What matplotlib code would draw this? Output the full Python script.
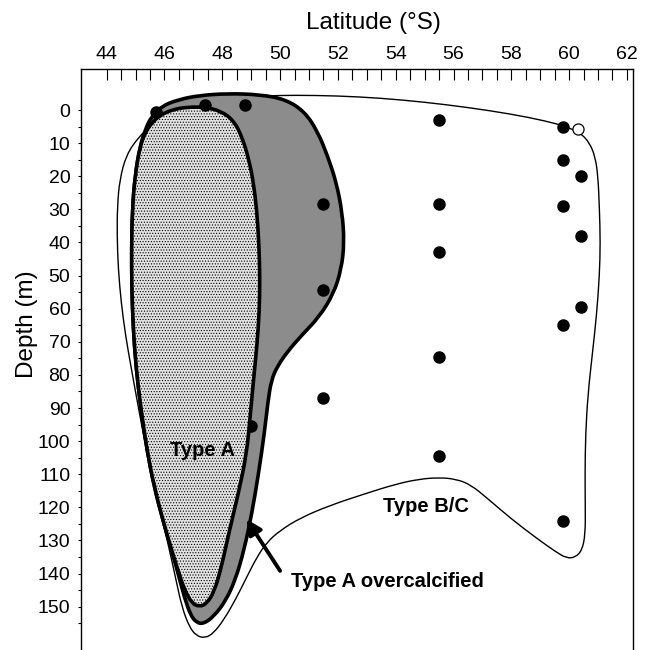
import numpy as np
import matplotlib
matplotlib.use("Agg")
import matplotlib.pyplot as plt
from matplotlib.path import Path
from matplotlib.patches import PathPatch
from matplotlib.ticker import FixedLocator

plt.rcParams['font.family'] = ['Liberation Sans', 'DejaVu Sans']
plt.rcParams['hatch.color'] = '#9a9a9a'
plt.rcParams['hatch.linewidth'] = 0.5

# sampling stations (latitude °S, depth m)
sta_lat = [45.7, 47.4, 48.8, 51.5, 51.5, 51.5,
           55.5, 55.5, 55.5, 55.5, 55.5,
           59.8, 59.8, 60.4, 59.8, 60.4, 60.4, 59.8, 59.8]
sta_depth = [0.5, -1.5, -1.5, 28.5, 54.5, 87.0,
             3.0, 28.5, 43.0, 74.5, 104.5,
             5.0, 15.0, 20.0, 29.0, 38.0, 59.5, 65.0, 124.0]
hidden_lat = [49.0]
hidden_depth = [95.5]
open_lat = [60.3]
open_depth = [5.8]

# outline of Type B/C
bc_lat = [45.70, 45.70, 46.50, 47.40, 48.40, 49.50, 50.50, 52.00, 53.50, 55.00,
          56.50, 58.00, 59.20, 59.90, 60.40, 60.70, 60.90, 61.00, 61.05, 61.08,
          61.05, 60.95, 60.80, 60.65, 60.57, 60.55, 60.56, 60.56, 60.45, 60.20,
          59.90, 59.55, 58.90, 58.00, 57.20, 56.60, 56.10, 55.50, 54.80, 54.00,
          52.90, 51.70, 50.70, 50.00, 49.55, 49.20, 48.85, 48.45, 48.05, 47.70,
          47.40, 47.10, 46.85, 46.60, 46.40, 46.10, 45.75, 45.40, 45.10, 44.85,
          44.65, 44.50, 44.40, 44.36, 44.37, 44.45, 44.68, 45.10, 45.50, 45.65]
bc_depth = [0.5, 0.5, -0.8, -1.8, -3.4, -4.3, -4.5, -4.3, -3.6, -2.4,
            -0.8, 1.2, 3.3, 5.0, 7.0, 9.8, 14.0, 20.0, 30.0, 40.0,
            50.0, 62.0, 74.0, 86.0, 98.0, 110.0, 120.0, 128.0, 133.0, 135.2,
            135.3, 133.5, 129.5, 123.5, 117.5, 113.2, 111.5, 111.0, 111.5, 113.0,
            116.0, 119.5, 123.2, 127.0, 130.5, 135.0, 141.0, 148.0, 154.0, 158.0,
            159.5, 158.8, 156.0, 150.0, 142.0, 130.0, 118.0, 104.0, 90.0, 78.0,
            68.0, 58.0, 48.0, 38.0, 29.0, 21.0, 13.5, 8.2, 5.0, 2.0]

# outline of Type A overcalcified
oc_lat = [45.55, 45.90, 46.50, 47.20, 48.15, 49.30, 50.20, 50.85, 51.30, 51.65,
          51.95, 52.15, 52.22, 52.12, 51.85, 51.35, 50.75, 50.25, 49.90, 49.70,
          49.58, 49.45, 49.25, 49.02, 48.75, 48.45, 48.10, 47.70, 47.35, 47.10,
          46.90, 46.70, 46.50, 46.25, 45.95, 45.65, 45.40, 45.18, 45.02, 44.92,
          44.87, 44.86, 44.89, 44.98, 45.15, 45.35]
oc_depth = [2.0, -1.2, -3.2, -4.4, -5.0, -4.7, -3.2, 0.5, 6.5, 14.0,
            22.0, 31.0, 40.0, 48.0, 55.5, 62.5, 68.0, 73.0, 77.5, 81.5,
            88.0, 98.0, 110.0, 122.0, 133.0, 142.0, 148.5, 153.0, 155.2, 154.8,
            152.5, 147.5, 141.0, 133.0, 124.0, 114.0, 103.0, 90.0, 78.0, 66.0,
            54.0, 42.0, 30.0, 20.0, 11.0, 5.5]

# outline of Type A
ta_lat = [45.55, 45.85, 46.30, 46.80, 47.40, 47.95, 48.40, 48.70, 48.92, 49.08,
          49.20, 49.27, 49.30, 49.28, 49.20, 49.08, 48.97, 48.84, 48.55, 48.22,
          47.97, 47.72, 47.45, 47.20, 46.95, 46.70, 46.50, 46.25, 45.95, 45.65,
          45.40, 45.18, 45.02, 44.92, 44.87, 44.86, 44.89, 44.98, 45.15, 45.35]
ta_depth = [4.0, 1.5, -0.2, -0.9, -0.9, 0.3, 3.2, 8.5, 15.0, 22.0,
            31.0, 41.0, 51.0, 61.0, 71.0, 81.5, 92.0, 104.0, 116.0, 128.0,
            138.0, 145.5, 149.2, 150.0, 149.0, 145.0, 140.0, 133.0, 124.0, 114.0,
            103.0, 90.0, 78.0, 66.0, 54.0, 42.0, 30.0, 20.0, 11.0, 6.5]


def outline(lat, dep):
    # closed smooth outline through the traced vertices (quadratic b-spline)
    pts = np.column_stack([lat, dep])
    mids = (pts + np.roll(pts, -1, axis=0)) / 2
    verts = [mids[-1]]
    codes = [Path.MOVETO]
    for i in range(len(pts)):
        verts += [pts[i], mids[i]]
        codes += [Path.CURVE3, Path.CURVE3]
    verts.append(mids[-1])
    codes.append(Path.CLOSEPOLY)
    return Path(verts, codes)


fig = plt.figure(figsize=(6.46, 6.5), dpi=100)
ax = fig.add_axes([0.1249, 0.0, 0.8545, 0.8938])

bc = outline(bc_lat, bc_depth)
ax.add_patch(PathPatch(bc, facecolor='white', edgecolor='black', lw=1.0, zorder=1))

oc = outline(oc_lat, oc_depth)
ax.add_patch(PathPatch(oc, facecolor='#8c8c8c', edgecolor='black', lw=2.6, zorder=2))

ax.plot(hidden_lat, hidden_depth, 'o', color='black', ms=8, zorder=2.5)

ta = outline(ta_lat, ta_depth)
ax.add_patch(PathPatch(ta, facecolor='#e2e2e2', hatch='......', lw=0, zorder=3))
ax.add_patch(PathPatch(ta, fill=False, edgecolor='black', lw=2.6, zorder=3.5))

ax.plot(sta_lat, sta_depth, 'o', color='black', ms=8, zorder=5)
ax.plot(open_lat, open_depth, 'o', mfc='white', mec='black', mew=0.9, ms=8, zorder=5)

ax.text(47.3, 102.8, 'Type A', fontsize=14.5, fontweight='bold', ha='center', va='center', zorder=6)
ax.text(55.05, 119.8, 'Type B/C', fontsize=14.5, fontweight='bold', ha='center', va='center', zorder=6)
ax.text(53.7, 142.5, 'Type A overcalcified', fontsize=14.5, fontweight='bold',
        ha='center', va='center', zorder=6)
ax.annotate('', xy=(48.84, 123.6), xytext=(50.0, 139.2),
            arrowprops=dict(arrowstyle='-|>', lw=2.8, color='black', mutation_scale=22,
                            shrinkA=0, shrinkB=0), zorder=6)

ax.set_xlim(43.1, 62.2)
ax.set_ylim(163.1, -12.4)

ax.xaxis.set_major_locator(FixedLocator(np.arange(44, 63, 2)))
ax.xaxis.set_minor_locator(FixedLocator(np.arange(44, 62.01, 0.5)))
ax.yaxis.set_major_locator(FixedLocator(np.arange(0, 151, 10)))
ax.yaxis.set_minor_locator(FixedLocator(np.arange(5, 156, 10)))

ax.tick_params(axis='x', which='both', top=True, bottom=False, labeltop=True,
               labelbottom=False, direction='in', length=8, width=0.8, pad=4,
               labelsize=14)
ax.tick_params(axis='y', which='both', direction='out', length=2.5, width=0.8,
               pad=5, labelsize=14)

ax.spines['bottom'].set_visible(False)
for s in ['left', 'right', 'top']:
    ax.spines[s].set_linewidth(1.0)

fig.text(373 / 646, 1 - 22.5 / 650, 'Latitude (°S)', fontsize=17.5, ha='center', va='center')
fig.text(27 / 646, 1 - 324 / 650, 'Depth (m)', fontsize=17.5, ha='center', va='center',
         rotation=90)

fig.savefig('out.png', dpi=100)
